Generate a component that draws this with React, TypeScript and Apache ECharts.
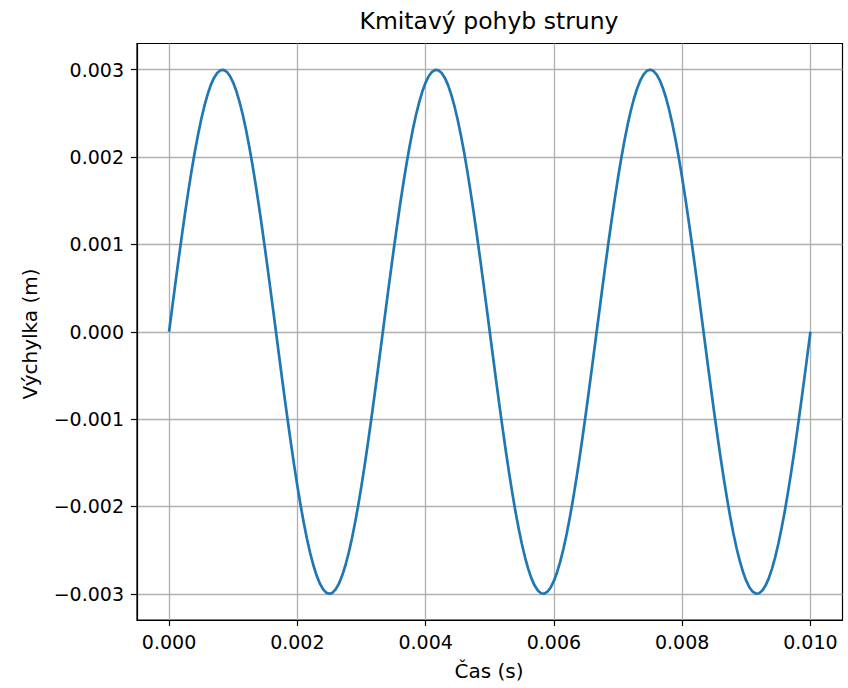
import React, { useEffect, useRef } from "react";
import * as echarts from "echarts";

const title = "Kmitavý pohyb struny";
const xName = "Čas (s)";
const yName = "Výchylka (m)";
const timeStepS = 0.00005;
// string displacement in millimetres, sampled every 0.05 ms from 0 to 10 ms
const displacementMm = [
  0, 0.282, 0.562, 0.837, 1.104, 1.362, 1.607, 1.839, 2.054, 2.25,
  2.427, 2.582, 2.714, 2.823, 2.906, 2.963, 2.994, 2.999, 2.976, 2.928,
  2.853, 2.753, 2.629, 2.481, 2.312, 2.121, 1.912, 1.686, 1.445, 1.191,
  0.927, 0.654, 0.376, 0.094, -0.188, -0.469, -0.746, -1.016, -1.277, -1.527,
  -1.763, -1.984, -2.187, -2.371, -2.533, -2.673, -2.789, -2.881, -2.947, -2.987,
  -3.0, -2.987, -2.947, -2.881, -2.789, -2.673, -2.533, -2.371, -2.187, -1.984,
  -1.763, -1.527, -1.277, -1.016, -0.746, -0.469, -0.188, 0.094, 0.376, 0.654,
  0.927, 1.191, 1.445, 1.686, 1.912, 2.121, 2.312, 2.481, 2.629, 2.753,
  2.853, 2.928, 2.976, 2.999, 2.994, 2.963, 2.906, 2.823, 2.714, 2.582,
  2.427, 2.25, 2.054, 1.839, 1.607, 1.362, 1.104, 0.837, 0.562, 0.282,
  0, -0.282, -0.562, -0.837, -1.104, -1.362, -1.607, -1.839, -2.054, -2.25,
  -2.427, -2.582, -2.714, -2.823, -2.906, -2.963, -2.994, -2.999, -2.976, -2.928,
  -2.853, -2.753, -2.629, -2.481, -2.312, -2.121, -1.912, -1.686, -1.445, -1.191,
  -0.927, -0.654, -0.376, -0.094, 0.188, 0.469, 0.746, 1.016, 1.277, 1.527,
  1.763, 1.984, 2.187, 2.371, 2.533, 2.673, 2.789, 2.881, 2.947, 2.987,
  3.0, 2.987, 2.947, 2.881, 2.789, 2.673, 2.533, 2.371, 2.187, 1.984,
  1.763, 1.527, 1.277, 1.016, 0.746, 0.469, 0.188, -0.094, -0.376, -0.654,
  -0.927, -1.191, -1.445, -1.686, -1.912, -2.121, -2.312, -2.481, -2.629, -2.753,
  -2.853, -2.928, -2.976, -2.999, -2.994, -2.963, -2.906, -2.823, -2.714, -2.582,
  -2.427, -2.25, -2.054, -1.839, -1.607, -1.362, -1.104, -0.837, -0.562, -0.282,
  0,
];
const xTicks = [0, 0.002, 0.004, 0.006, 0.008, 0.01];
const yTicks = [-0.003, -0.002, -0.001, 0, 0.001, 0.002, 0.003];

const FONT = "DejaVu Sans";
const fmt = (v: number) => v.toFixed(3).replace("-", "\u2212");

export default function App() {
  const ref = useRef<HTMLDivElement>(null);
  useEffect(() => {
    if (!ref.current) return;
    const chart = echarts.init(ref.current, null, { renderer: "svg" });
    const data = displacementMm.map((mm, i) => [i * timeStepS, mm / 1000]);
    chart.setOption({
      animation: false,
      backgroundColor: "#ffffff",
      grid: {
        left: 137,
        top: 43.5,
        right: 5.5,
        bottom: 68,
        show: true,
        borderColor: "#000000",
        borderWidth: 1.2,
        backgroundColor: "transparent",
      },
      graphic: [
        {
          type: "text",
          x: 489,
          y: 21,
          style: {
            text: title,
            font: `23.5px "${FONT}"`,
            fill: "#000",
            align: "center",
            verticalAlign: "middle",
          },
        },
        {
          type: "text",
          x: 489,
          y: 671,
          style: {
            text: xName,
            font: `20px "${FONT}"`,
            fill: "#000",
            align: "center",
            verticalAlign: "middle",
          },
        },
        {
          type: "text",
          x: 30,
          y: 334,
          rotation: Math.PI / 2,
          style: {
            text: yName,
            font: `20px "${FONT}"`,
            fill: "#000",
            align: "center",
            verticalAlign: "middle",
          },
        },
      ],
      xAxis: {
        type: "value",
        min: -0.0005,
        max: 0.0105,
        axisLine: { show: true, onZero: false, lineStyle: { color: "#000", width: 1.2 } },
        axisTick: {
          show: true,
          customValues: xTicks,
          length: 6,
          inside: false,
          lineStyle: { color: "#000", width: 1.2 },
        },
        axisLabel: {
          customValues: xTicks,
          formatter: fmt,
          margin: 12,
          color: "#000",
          fontFamily: FONT,
          fontSize: 19,
        },
        splitLine: { show: true, lineStyle: { color: "#b0b0b0", width: 1.3 } },
      },
      yAxis: {
        type: "value",
        min: -0.0033,
        max: 0.0033,
        axisLine: { show: true, onZero: false, lineStyle: { color: "#000", width: 1.2 } },
        axisTick: {
          show: true,
          customValues: yTicks,
          length: 6,
          inside: false,
          lineStyle: { color: "#000", width: 1.2 },
        },
        axisLabel: {
          customValues: yTicks,
          formatter: fmt,
          margin: 13,
          color: "#000",
          fontFamily: FONT,
          fontSize: 19,
        },
        splitLine: { show: true, lineStyle: { color: "#b0b0b0", width: 1.3 } },
      },
      series: [
        {
          type: "line",
          data,
          showSymbol: false,
          symbol: "none",
          smooth: false,
          lineStyle: { color: "#1f77b4", width: 2.7, join: "round" },
          z: 5,
        },
      ],
    });
    return () => chart.dispose();
  }, []);
  return (
    <div
      ref={ref}
      style={{ position: "fixed", left: 0, top: 0, width: 848, height: 688 }}
    />
  );
}
